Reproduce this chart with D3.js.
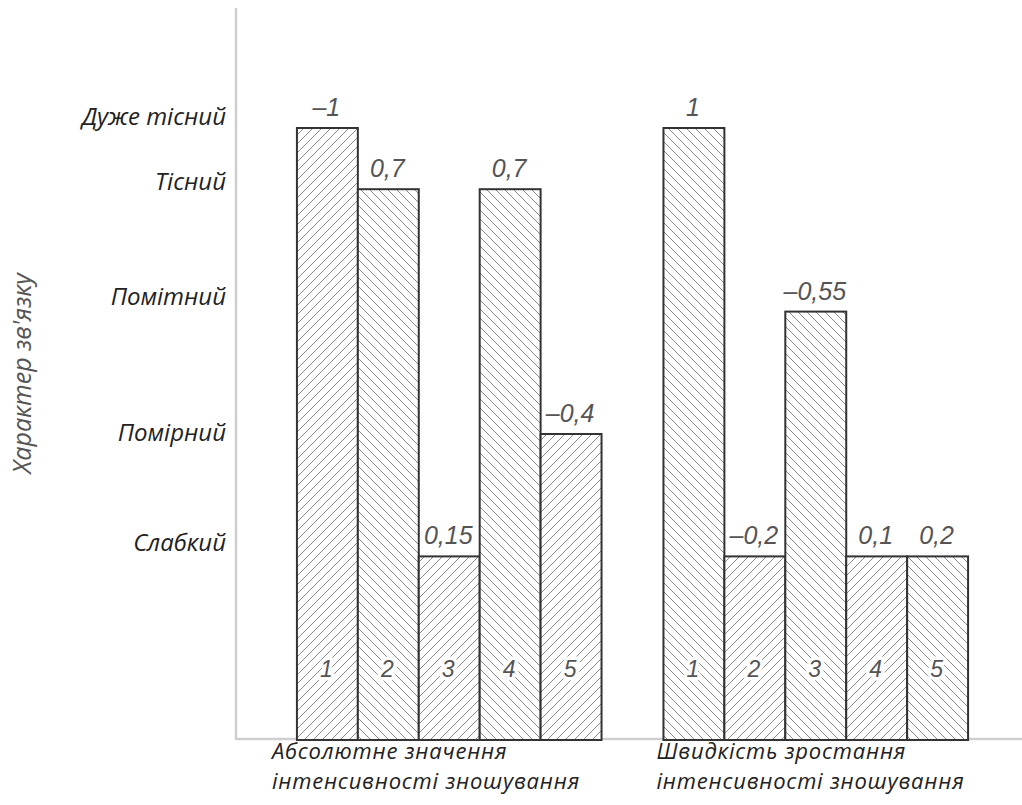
<!DOCTYPE html>
<html><head><meta charset="utf-8">
<script src="https://cdn.jsdelivr.net/npm/d3@7"></script>
<style>body{margin:0;background:#fff}svg{display:block}</style>
</head><body><svg id="c" width="1022" height="805"></svg>
<script>
// ---- data ----
const groupKeys = ["abs", "rate"];
const groupLines = [["Абсолютне значення", "інтенсивності зношування"], ["Швидкість зростання", "інтенсивності зношування"]];
const barIds = ["1", "2", "3", "4", "5"];
const coefAbs = ["–1", "0,7", "0,15", "0,7", "–0,4"];
const levelAbs = [1.0, 0.9, 0.3, 0.9, 0.5];
const coefRate = ["1", "–0,2", "–0,55", "0,1", "0,2"];
const levelRate = [1.0, 0.3, 0.7, 0.3, 0.3];
const levelNames = ["Дуже тісний", "Тісний", "Помітний", "Помірний", "Слабкий"];
const levelLabelPos = [1.0065, 0.899, 0.711, 0.49, 0.31];
const yTitle = "Характер зв'язку";

const coefs = [coefAbs, coefRate];
const levels = [levelAbs, levelRate];
const bars = [];
groupKeys.forEach((g, gi) => barIds.forEach((b, bi) => bars.push({
  g, gi, b, bi, coef: coefs[gi][bi], level: levels[gi][bi], dir: (gi + bi) % 2 === 0 ? "f" : "b"
})));

// ---- layout ----
const svg = d3.select("#c");
const x0 = d3.scaleBand().domain(groupKeys).range([236, 1029]).paddingInner(62 / 367).paddingOuter(61 / 367);
const x1 = d3.scaleBand().domain(barIds).range([0, x0.bandwidth()]);
const y = d3.scaleLinear().domain([0, 1]).range([740, 128]);

// hatch patterns
const defs = svg.append("defs");
const P = 9;
[["f", [[0, P, P, 0], [-P/2, P/2, P/2, -P/2], [P/2, P*1.5, P*1.5, P/2]]],
 ["b", [[0, 0, P, P], [-P/2, P/2, P/2, P*1.5], [P/2, -P/2, P*1.5, P/2]]]].forEach(([id, segs]) => {
  const p = defs.append("pattern").attr("id", "h" + id).attr("patternUnits", "userSpaceOnUse")
    .attr("width", P).attr("height", P);
  p.append("rect").attr("width", P).attr("height", P).attr("fill", "#fff");
  segs.forEach(s => p.append("line").attr("x1", s[0]).attr("y1", s[1]).attr("x2", s[2]).attr("y2", s[3])
    .attr("stroke", "#8a8a8a").attr("stroke-width", 1));
});

// axis lines
svg.append("line").attr("x1", 236).attr("x2", 236).attr("y1", 8).attr("y2", y(0))
  .attr("stroke", "#cfcfcf").attr("stroke-width", 2.5);
svg.append("line").attr("x1", 236).attr("x2", 1022).attr("y1", y(0) - 1).attr("y2", y(0) - 1)
  .attr("stroke", "#cfcfcf").attr("stroke-width", 2.5);

// bars
const bg = svg.append("g");
bg.selectAll("rect").data(bars).join("rect")
  .attr("x", d => x0(d.g) + x1(d.b))
  .attr("y", d => y(d.level))
  .attr("width", x1.bandwidth())
  .attr("height", d => y(0) - y(d.level))
  .attr("fill", d => `url(#h${d.dir})`)
  .attr("stroke", "#333").attr("stroke-width", 2);

// coefficient labels
const numFont = "'Liberation Sans Narrow','Arial Narrow',sans-serif";
svg.append("g").selectAll("text").data(bars).join("text")
  .attr("x", d => x0(d.g) + x1(d.b) + x1.bandwidth() / 2 - 1)
  .attr("y", d => y(d.level) - 12)
  .attr("text-anchor", "middle")
  .attr("font-family", numFont).attr("font-style", "italic").attr("font-size", 25)
  .attr("fill", "#555")
  .text(d => d.coef);

// bar numbers
svg.append("g").selectAll("text").data(bars).join("text")
  .attr("x", d => x0(d.g) + x1(d.b) + x1.bandwidth() / 2 - 1)
  .attr("y", y(0) - 63)
  .attr("text-anchor", "middle")
  .attr("font-family", numFont).attr("font-style", "italic").attr("font-size", 23)
  .attr("fill", "#555")
  .attr("stroke", "#fff").attr("stroke-width", 7).attr("paint-order", "stroke").attr("stroke-linejoin", "round")
  .text(d => d.b);

// y axis labels
const yAxis = d3.axisLeft(y).tickValues(levelLabelPos).tickSize(0).tickPadding(0)
  .tickFormat((d, i) => levelNames[i]);
const ya = svg.append("g").attr("transform", "translate(226,0)").call(yAxis);
ya.select(".domain").remove();
ya.selectAll("text").attr("dy", 0)
  .attr("font-family", "'Open Sans',sans-serif").attr("font-style", "italic").attr("font-size", 24)
  .attr("fill", "#222");

// y title
svg.append("text").attr("transform", `translate(31,${(267 + 480) / 2}) rotate(-90)`)
  .attr("text-anchor", "middle")
  .attr("font-family", "'Open Sans',sans-serif").attr("font-style", "italic").attr("font-size", 25)
  .attr("fill", "#555").text(yTitle);

// group labels (one text per line)
const groupOffset = [-25, -7];
const lineData = [];
groupKeys.forEach((g, gi) => groupLines[gi].forEach((t, li) => lineData.push({ g, gi, li, t })));
svg.append("g").selectAll("text").data(lineData).join("text")
  .attr("x", d => x0(d.g) + groupOffset[d.gi])
  .attr("y", d => y(0) + 19 + d.li * 30)
  .attr("font-family", "'Open Sans',sans-serif").attr("font-style", "italic").attr("font-size", 22)
  .attr("letter-spacing", 0.8)
  .attr("fill", "#222")
  .text(d => d.t);
</script></body></html>
